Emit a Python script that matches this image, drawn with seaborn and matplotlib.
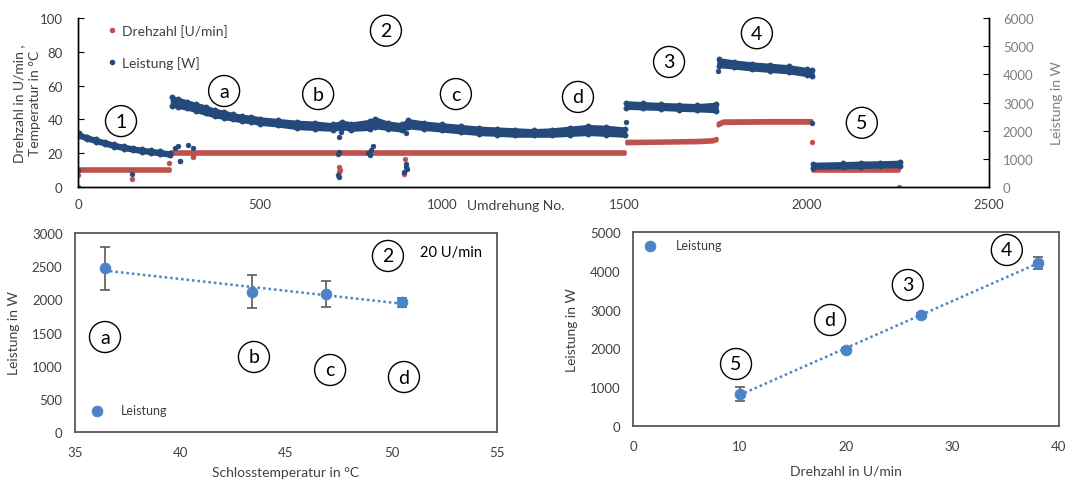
import numpy as np
import pandas as pd
import matplotlib
matplotlib.use("Agg")
import matplotlib.pyplot as plt
from matplotlib.lines import Line2D
import seaborn as sns

# Leistung [W] (rechte Achse)
blue_rev = [2, 25, 50, 75, 100, 125, 150, 175, 200, 225, 252,
            258, 275, 300, 325, 350, 375, 400, 425, 450, 475, 500, 550, 600, 650, 700,
            725, 750, 800, 815, 850, 890, 905, 950, 1000, 1050, 1100, 1150, 1200, 1250,
            1300, 1350, 1400, 1450, 1500,
            1505, 1550, 1600, 1650, 1700, 1752,
            1758, 1800, 1850, 1900, 1950, 2000, 2015,
            2018, 2100, 2150, 2200, 2255]
blue_stage = [1] * 11 + [2] * 34 + [3] * 6 + [4] * 7 + [5] * 5
blue_lo = [1800, 1690, 1600, 1510, 1420, 1360, 1300, 1250, 1210, 1170, 1120,
           2880, 2850, 2790, 2700, 2610, 2520, 2460, 2400, 2340, 2310, 2250, 2190, 2100, 2070, 2040,
           2100, 2040, 2070, 2130, 2070, 2010, 2130, 2070, 2010, 1950, 1890, 1860, 1830, 1830,
           1830, 1860, 1890, 1860, 1830,
           2820, 2800, 2780, 2750, 2730, 2700,
           4300, 4250, 4180, 4130, 4080, 3980, 3950,
           690, 710, 720, 740, 750]
blue_hi = [1900, 1790, 1700, 1610, 1520, 1460, 1400, 1350, 1310, 1270, 1220,
           3180, 3120, 3030, 2940, 2850, 2730, 2670, 2580, 2520, 2490, 2430, 2370, 2310, 2280, 2220,
           2310, 2250, 2340, 2430, 2280, 2220, 2370, 2280, 2220, 2160, 2100, 2070, 2040, 2010,
           2040, 2100, 2160, 2130, 2070,
           3000, 2970, 2940, 2920, 2900, 2950,
           4530, 4450, 4380, 4330, 4280, 4180, 4150,
           820, 840, 860, 870, 890]

# Drehzahl [U/min] (linke Achse)
red_rev = [2, 125, 252, 258, 700, 1100, 1500, 1505, 1600, 1700, 1740, 1752,
           1756, 1770, 1900, 2012, 2018, 2252]
red_stage = [1, 1, 1, 2, 2, 2, 2, 3, 3, 3, 3, 3, 4, 4, 4, 4, 5, 5]
red_lo = [9.4, 9.4, 9.4, 19.7, 19.7, 19.7, 19.7, 26.0, 26.3, 26.6, 27.0, 27.8,
          36.5, 38.0, 38.2, 38.2, 9.6, 9.6]
red_hi = [10.8, 10.8, 10.8, 21.0, 21.0, 21.0, 21.0, 27.2, 27.4, 27.8, 28.2, 29.0,
          38.0, 39.3, 39.5, 39.5, 10.9, 10.9]

# Einzelpunkte ausserhalb der Baender
blue_out_rev = [0, 0, 147, 265, 275, 279, 303, 315, 713, 715, 717, 722, 713, 716,
                795, 800, 805, 810, 900, 895, 900, 901, 902, 1503, 1755, 2014]
blue_out_w = [0, 600, 470, 1380, 1470, 940, 1500, 1380, 1180, 1240, 1760, 1960, 440, 350,
              1210, 1140, 1300, 1470, 1900, 530, 820, 710, 630, 2320, 4120, 2290]
red_out_rev = [0, 147, 251, 279, 315, 316, 716, 718, 715, 897, 895, 2014, 2254]
red_out_val = [7, 4.9, 14.3, 15.3, 17.6, 18.6, 11.8, 9.8, 8.8, 16.7, 8.0, 26.9, 0]

# ---------- unten links: Leistung ueber Schlosstemperatur ----------
temp = [36.4, 43.4, 46.9, 50.5]
leistung_t = [2465, 2115, 2080, 1955]
err_t = [330, 245, 195, 70]

# ---------- unten rechts: Leistung ueber Drehzahl ----------
drehzahl = [10, 20, 27, 38]
leistung_d = [825, 1965, 2860, 4205]
err_d = [175, 40, 45, 160]

RED = "#C0504D"
BLUE = "#24497B"
LBLUE = "#4A84C6"
TXT = "#404040"

sns.set_style("white")
plt.rcParams["font.family"] = ["Lato", "DejaVu Sans"]
plt.rcParams["font.size"] = 9.5


def circ(ax, x, y, s, fs=14):
    ax.text(x, y, s, fontsize=fs, ha="center", va="center", color="black", zorder=10,
            bbox=dict(boxstyle="circle,pad=0.36", fc="white", ec="black", lw=1.0))


fig = plt.figure(figsize=(10.67, 4.81), dpi=100)

# ===================== oben =====================
ax = fig.add_axes([0.0731, 0.6091, 0.8538, 0.3514])
ax2 = ax.twinx()
blue = pd.DataFrame({"rev": blue_rev, "stage": blue_stage, "lo": blue_lo, "hi": blue_hi})
red = pd.DataFrame({"rev": red_rev, "stage": red_stage, "lo": red_lo, "hi": red_hi})

for _, g in red.groupby("stage"):
    ax.fill_between(g["rev"], g["lo"], g["hi"], color=RED, ec=RED, lw=2.6)
sns.scatterplot(x=red_out_rev, y=red_out_val, ax=ax, color=RED, s=13, edgecolor=None)

for _, g in blue.groupby("stage"):
    ax2.fill_between(g["rev"], g["lo"], g["hi"], color=BLUE, ec=BLUE, lw=2.6)
sns.scatterplot(x=blue["rev"], y=blue["lo"], ax=ax2, color=BLUE, s=15, edgecolor=None)
sns.scatterplot(x=blue["rev"], y=blue["hi"], ax=ax2, color=BLUE, s=15, edgecolor=None)
sns.scatterplot(x=blue_out_rev, y=blue_out_w, ax=ax2, color=BLUE, s=13, edgecolor=None)

ax.set_xlim(0, 2500)
ax.set_ylim(0, 100)
ax2.set_ylim(0, 6000)
ax.set_xticks(range(0, 2501, 500))
ax.set_yticks(range(0, 101, 20))
ax2.set_yticks(range(0, 6001, 1000))
ax.tick_params(direction="in", length=4, colors="black", labelcolor=TXT, labelsize=9.5)
ax.tick_params(axis="y", pad=11)
ax.tick_params(axis="x", pad=8)
ax2.tick_params(direction="in", length=4, colors="black", labelcolor="#7F7F7F",
                labelsize=9.5, pad=10)
for a in (ax, ax2):
    a.spines["top"].set_visible(False)
    for sp in ("left", "right", "bottom"):
        a.spines[sp].set_color("black")
        a.spines[sp].set_linewidth(1.0)
ax.set_xlabel("")
ax.set_ylabel("Drehzahl in U/min ,\nTemperatur in °C", fontsize=10, color=TXT,
              multialignment="center", linespacing=1.3)
ax.yaxis.set_label_coords(-0.041, 0.5)
ax2.set_ylabel("Leistung in W", fontsize=10, color="#7F7F7F")
ax2.yaxis.set_label_coords(1.068, 0.5)
ax.text(0.48, -0.105, "Umdrehung No.", transform=ax.transAxes, ha="center", va="center",
        fontsize=10, color=TXT)

handles = [Line2D([], [], ls="", marker="o", ms=3, color=RED),
           Line2D([], [], ls="", marker="o", ms=3, color=BLUE)]
ax.legend(handles, ["Drehzahl [U/min]", "Leistung [W]"], loc="upper left",
          bbox_to_anchor=(0.03, 0.965), frameon=False, fontsize=10, handlelength=1,
          handletextpad=0.2, labelspacing=1.4, borderpad=0, borderaxespad=0,
          labelcolor=TXT)

circ(ax, 118, 39, "1")
circ(ax, 845, 92.5, "2")
circ(ax, 401, 56.8, "a")
circ(ax, 659, 55, "b")
circ(ax, 1037, 55, "c")
circ(ax, 1372, 53.3, "d")
circ(ax, 1622, 74, "3")
circ(ax, 1863, 91, "4")
circ(ax, 2151, 38, "5")

# ===================== unten links =====================
bl = fig.add_axes([0.0703, 0.0998, 0.3955, 0.4137])
bl.errorbar(temp, leistung_t, yerr=err_t, fmt="none", ecolor="#5A5A5A", elinewidth=1.2,
            capsize=3.5, capthick=1.2, zorder=2)
sns.regplot(x=temp, y=leistung_t, ax=bl, scatter=False, ci=None, color=LBLUE,
            line_kws=dict(ls=(0, (1, 1.2)), lw=1.8, zorder=1))
sns.scatterplot(x=temp, y=leistung_t, ax=bl, color=LBLUE, s=60, edgecolor=None, zorder=3,
                label="Leistung")
bl.set_xlim(35, 55)
bl.set_ylim(0, 3000)
bl.set_xticks(range(35, 56, 5))
bl.set_yticks(range(0, 3001, 500))
bl.set_xlabel("Schlosstemperatur in °C", fontsize=10, color=TXT)
bl.set_ylabel("Leistung in W", fontsize=10, color=TXT)
bl.xaxis.set_label_coords(0.5, -0.171)
bl.yaxis.set_label_coords(-0.13, 0.5)
bl.legend(loc="center left", bbox_to_anchor=(0.038, 0.11), frameon=False, fontsize=9,
          handlelength=1, handletextpad=1.4, borderpad=0, borderaxespad=0, labelcolor=TXT)
circ(bl, 49.83, 2654, "2")
bl.text(51.35, 2714, "20 U/min", fontsize=10.5, ha="left", va="center", color="black")
circ(bl, 36.42, 1432, "a")
circ(bl, 43.48, 1131, "b")
circ(bl, 47.09, 935, "c")
circ(bl, 50.59, 829, "d")

# ===================== unten rechts =====================
br = fig.add_axes([0.5933, 0.1123, 0.3992, 0.4033])
br.errorbar(drehzahl, leistung_d, yerr=err_d, fmt="none", ecolor="#5A5A5A", elinewidth=1.2,
            capsize=3.5, capthick=1.2, zorder=2)
sns.regplot(x=drehzahl, y=leistung_d, ax=br, scatter=False, ci=None, color=LBLUE,
            line_kws=dict(ls=(0, (1, 1.2)), lw=1.8, zorder=1))
sns.scatterplot(x=drehzahl, y=leistung_d, ax=br, color=LBLUE, s=60, edgecolor=None, zorder=3,
                label="Leistung")
br.set_xlim(0, 40)
br.set_ylim(0, 5000)
br.set_xticks(range(0, 41, 10))
br.set_yticks(range(0, 5001, 1000))
br.set_xlabel("Drehzahl in U/min", fontsize=10, color=TXT)
br.set_ylabel("Leistung in W", fontsize=10, color=TXT)
br.xaxis.set_label_coords(0.5, -0.201)
br.yaxis.set_label_coords(-0.129, 0.5)
br.legend(loc="center left", bbox_to_anchor=(0.025, 0.933), frameon=False, fontsize=9,
          handlelength=1, handletextpad=1.6, borderpad=0, borderaxespad=0, labelcolor=TXT)
circ(br, 9.67, 1598, "5")
circ(br, 18.5, 2732, "d")
circ(br, 25.8, 3634, "3")
circ(br, 35.1, 4536, "4")

for a in (bl, br):
    for sp in a.spines.values():
        sp.set_visible(True)
        sp.set_color("#595959")
        sp.set_linewidth(1.3)
    a.tick_params(axis="y", direction="in", length=4, colors="#595959", labelcolor=TXT,
                  labelsize=9.5, pad=9)
    a.tick_params(axis="x", length=0, labelcolor=TXT, labelsize=9.5, pad=10)

fig.savefig("out.png", dpi=100)
